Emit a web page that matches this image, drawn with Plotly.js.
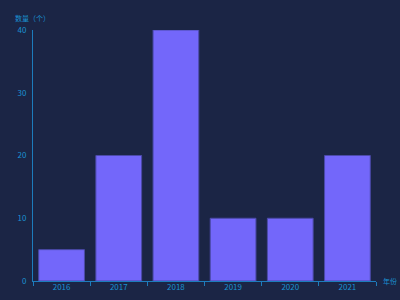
<!DOCTYPE html>
<html><head><meta charset="utf-8">
<script src="https://cdn.plot.ly/plotly-3.0.1.min.js"></script>
<style>html,body{margin:0;padding:0;background:#1b2545;}#c{width:400px;height:300px;}</style>
</head><body><div id="c"></div>
<script>
const years = ['2016','2017','2018','2019','2020','2021'];
const counts = [5, 20, 40, 10, 10, 20];
const yTicks = [0, 10, 20, 30, 40];
const axisColor = '#1d7cbc';
const textColor = '#1a92d2';
const font = {family: '"Noto Sans CJK SC", "Noto Sans", sans-serif', size: 8, color: textColor};
const small = {family: '"Noto Sans CJK SC", "Noto Sans", sans-serif', size: 7, color: textColor};
Plotly.newPlot('c', [{
  type: 'bar', x: years, y: counts,
  marker: {color: '#7367fa', line: {color: '#4b4aa8', width: 1}},
  hoverinfo: 'none'
}], {
  width: 400, height: 300,
  paper_bgcolor: '#1b2545', plot_bgcolor: '#1b2545',
  margin: {l: 33, r: 24, t: 30, b: 19},
  bargap: 0.2,
  font: font,
  showlegend: false,
  xaxis: {
    type: 'category', showline: true, linecolor: axisColor, linewidth: 1,
    ticks: 'outside', tickson: 'boundaries', ticklen: 4, tickcolor: axisColor,
    showgrid: false, zeroline: false, tickfont: font, ticklabelstandoff: -2
  },
  yaxis: {
    range: [0, 40], tickvals: yTicks, showline: true, linecolor: axisColor, linewidth: 1,
    ticks: '', showgrid: false, zeroline: false, tickfont: font, ticklabelstandoff: 4
  },
  annotations: [
    {text: '数量（个）', xref: 'paper', yref: 'paper', x: 0, y: 1, yshift: 12, xshift: -1, xanchor: 'center', yanchor: 'middle', showarrow: false, font: small},
    {text: '年份', xref: 'paper', yref: 'paper', x: 1, y: 0, xshift: 5, xanchor: 'left', yanchor: 'middle', showarrow: false, font: small}
  ]
}, {displayModeBar: false, staticPlot: true});
</script></body></html>
